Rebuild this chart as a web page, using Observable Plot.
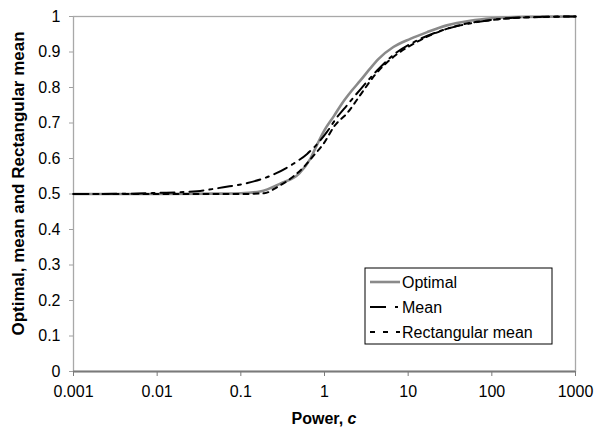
<!DOCTYPE html>
<html><head><meta charset="utf-8">
<script src="https://cdn.jsdelivr.net/npm/d3@7"></script>
<script src="https://cdn.jsdelivr.net/npm/@observablehq/plot@0.6"></script>
<style>
body{margin:0;background:#fff;}
#chart svg{font-family:"Liberation Sans",Arial,sans-serif;}
</style>
</head><body><div id="chart"></div>
<script>
// Series: power c and value
const optimalC = [0.001, 0.01, 0.05, 0.1, 0.17, 0.3, 0.5, 0.68, 0.8, 1, 1.3, 1.62, 2.1, 2.69, 3.5, 4.4, 6.65, 10.6, 16.9, 29, 55, 100, 250, 1000];
const optimalV = [0.5, 0.5, 0.501, 0.502, 0.507, 0.53, 0.558, 0.6, 0.635, 0.68, 0.72, 0.755, 0.79, 0.82, 0.853, 0.88, 0.914, 0.937, 0.956, 0.975, 0.988, 0.995, 0.999, 1];
const meanC = [0.001, 0.005, 0.01, 0.03, 0.062, 0.12, 0.23, 0.41, 0.62, 0.82, 1.07, 1.4, 1.86, 2.69, 4.25, 7.4, 11.5, 22, 42, 66, 150, 400, 1000];
const meanV = [0.5, 0.501, 0.503, 0.508, 0.519, 0.531, 0.552, 0.583, 0.613, 0.641, 0.675, 0.715, 0.75, 0.795, 0.848, 0.9, 0.927, 0.956, 0.975, 0.984, 0.995, 0.999, 1];
const rectC = [0.001, 0.01, 0.1, 0.19, 0.27, 0.39, 0.56, 0.74, 0.97, 1.3, 1.9, 2.7, 4, 7, 12, 25, 50, 100, 300, 1000];
const rectV = [0.5, 0.5, 0.5, 0.502, 0.519, 0.543, 0.575, 0.608, 0.641, 0.69, 0.73, 0.78, 0.835, 0.89, 0.925, 0.96, 0.98, 0.99, 0.998, 1];

const seriesNames = ["Optimal", "Mean", "Rectangular mean"];
const xTicks = [0.001, 0.01, 0.1, 1, 10, 100, 1000];
const xTickLabels = ["0.001", "0.01", "0.1", "1", "10", "100", "1000"];
const yTicks = [0, 0.1, 0.2, 0.3, 0.4, 0.5, 0.6, 0.7, 0.8, 0.9, 1];
const yTickLabels = ["0", "0.1", "0.2", "0.3", "0.4", "0.5", "0.6", "0.7", "0.8", "0.9", "1"];
const xTitle = "Power, ";
const xTitleItalic = "c";
const yTitle = "Optimal, mean and Rectangular mean";

const toRows = (cs, vs) => cs.map((c, i) => ({c, v: vs[i]}));
const optimal = toRows(optimalC, optimalV);
const mean = toRows(meanC, meanV);
const rect = toRows(rectC, rectV);

const nearestIndex = (arr, d, f) => {
  let best = 0;
  arr.forEach((t, i) => { if (Math.abs(f(t) - f(d)) < Math.abs(f(arr[best]) - f(d))) best = i; });
  return best;
};
const xFmt = d => xTickLabels[nearestIndex(xTicks, d, Math.log10)];
const yFmt = d => yTickLabels[nearestIndex(yTicks, d, v => v)];

const styles = [
  {stroke: "#8a8a8a", strokeWidth: 2.6, strokeDasharray: null},
  {stroke: "#000", strokeWidth: 2, strokeDasharray: "14,6,3,6"},
  {stroke: "#000", strokeWidth: 2, strokeDasharray: "5,5"}
];

const W = 594, H = 434;
const mL = 73, mR = 19, mT = 16, mB = 63;

const plot = Plot.plot({
  width: W, height: H,
  marginLeft: mL, marginRight: mR, marginTop: mT, marginBottom: mB,
  style: {fontFamily: "'Liberation Sans', Arial, sans-serif", fontSize: "16px", background: "#fff", color: "#000", overflow: "visible"},
  x: {type: "log", domain: [0.001, 1000]},
  y: {domain: [0, 1]},
  marks: [
    Plot.frame({stroke: "#a8a8a8", strokeWidth: 1.3}),
    Plot.axisY({ticks: yTicks, tickFormat: yFmt, tickSize: 4, tickPadding: 9, stroke: "#a0a0a0", fill: "#000", label: null, fontSize: 16}),
    Plot.axisX({ticks: xTicks, tickFormat: xFmt, tickSize: 5, tickPadding: 9, stroke: "#7a7a7a", fill: "#000", label: null, fontSize: 16}),
    Plot.ruleY([0], {stroke: "#7a7a7a", strokeWidth: 2}),
    Plot.line(optimal, {x: "c", y: "v", curve: "monotone-x", ...styles[0]}),
    Plot.line(mean, {x: "c", y: "v", curve: "monotone-x", ...styles[1]}),
    Plot.line(rect, {x: "c", y: "v", curve: "monotone-x", ...styles[2]})
  ]
});

document.getElementById("chart").appendChild(plot);
const svg = d3.select(plot);

// Axis titles
const xt = svg.append("text")
  .attr("x", mL + (W - mL - mR) / 2).attr("y", 424)
  .attr("text-anchor", "middle")
  .attr("font-weight", "bold").attr("font-size", 16).attr("fill", "#000");
xt.append("tspan").text(xTitle);
xt.append("tspan").attr("font-style", "italic").text(xTitleItalic);

svg.append("text")
  .attr("transform", `translate(24,${mT + (H - mT - mB) / 2 - 10}) rotate(-90)`)
  .attr("text-anchor", "middle")
  .attr("font-weight", "bold").attr("font-size", 17).attr("fill", "#000")
  .text(yTitle);

// Legend
const lg = svg.append("g").attr("transform", "translate(365,268)");
lg.append("rect").attr("x", 0).attr("y", 0).attr("width", 187).attr("height", 76)
  .attr("fill", "#fff").attr("stroke", "#000").attr("stroke-width", 1);
seriesNames.forEach((name, i) => {
  const yy = 14 + i * 25;
  const s = styles[i];
  const ln = lg.append("line").attr("x1", 5).attr("x2", 35).attr("y1", yy).attr("y2", yy)
    .attr("stroke", s.stroke).attr("stroke-width", s.strokeWidth);
  if (i === 1) ln.attr("stroke-dasharray", "16,9,3,9");
  if (i === 2) ln.attr("stroke-dasharray", "5,8");
  lg.append("text").attr("x", 37).attr("y", yy).attr("dy", "0.35em")
    .attr("text-anchor", "start")
    .attr("font-size", 16).attr("fill", "#000").text(name);
});
</script>
</body></html>
